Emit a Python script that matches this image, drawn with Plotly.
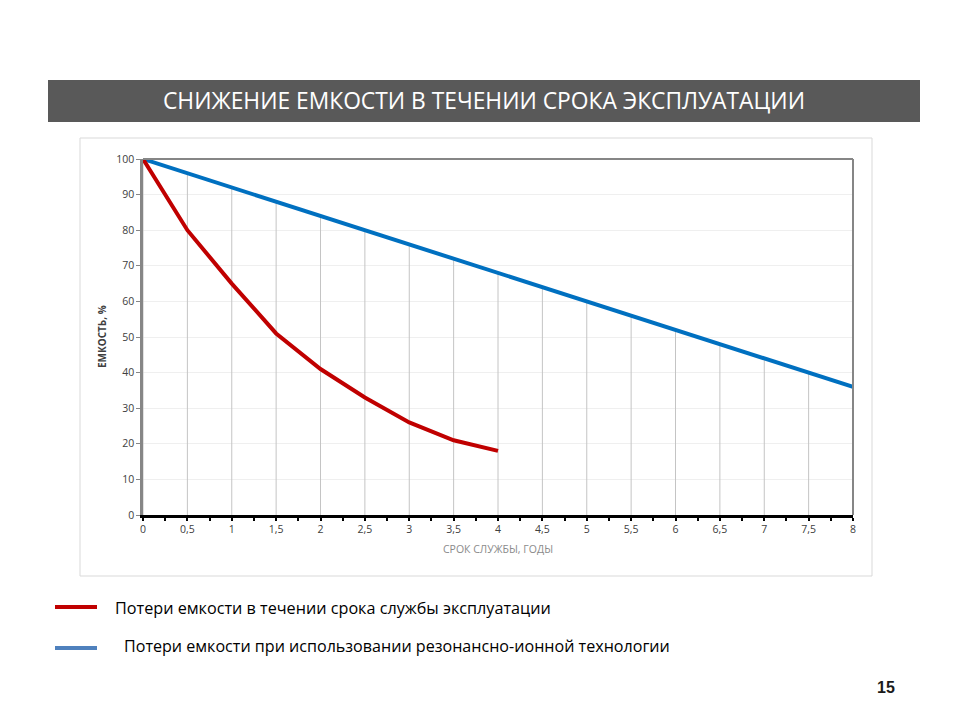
import plotly.graph_objects as go

years = [0, 0.5, 1, 1.5, 2, 2.5, 3, 3.5, 4, 4.5, 5, 5.5, 6, 6.5, 7, 7.5, 8]
red_years = [0, 0.5, 1, 1.5, 2, 2.5, 3, 3.5, 4]
red_vals = [100, 80, 65, 51, 41, 33, 26, 21, 18]
blue_vals = [100, 96, 92, 88, 84, 80, 76, 72, 68, 64, 60, 56, 52, 48, 44, 40, 36]
x_ticks = [0, 0.5, 1, 1.5, 2, 2.5, 3, 3.5, 4, 4.5, 5, 5.5, 6, 6.5, 7, 7.5, 8]
x_labels = ["0", "0,5", "1", "1,5", "2", "2,5", "3", "3,5", "4", "4,5", "5", "5,5", "6", "6,5", "7", "7,5", "8"]

title = "СНИЖЕНИЕ ЕМКОСТИ В ТЕЧЕНИИ СРОКА ЭКСПЛУАТАЦИИ"
legend_red = "Потери емкости в течении срока службы эксплуатации"
legend_blue = "Потери емкости при использовании резонансно-ионной технологии"
x_title = "СРОК СЛУЖБЫ, ГОДЫ"
y_title = "ЕМКОСТЬ, %"

FONT = "Open Sans"

# drop lines from the blue series to the x axis
dx, dy = [], []
for xv, yv in zip(years, blue_vals):
    dx += [xv, xv, None]
    dy += [0, yv, None]

fig = go.Figure()
fig.add_trace(go.Scatter(x=dx, y=dy, mode="lines", line=dict(color="#c4c4c4", width=1),
                         hoverinfo="skip", showlegend=False))
fig.add_trace(go.Scatter(x=years, y=blue_vals, mode="lines", line=dict(color="#0070c0", width=4),
                         showlegend=False))
fig.add_trace(go.Scatter(x=red_years, y=red_vals, mode="lines", line=dict(color="#c00000", width=4),
                         showlegend=False))

W, H = 960, 720
L, R, T, B = 143, 853, 159, 515

shapes = [
    # chart outer frame
    dict(type="rect", xref="paper", yref="paper",
         x0=(80 - L) / (R - L), x1=(872 - L) / (R - L),
         y0=(B - 576) / (B - T), y1=(B - 138) / (B - T),
         line=dict(color="#d9d9d9", width=1), fillcolor="rgba(0,0,0,0)", layer="below"),
    # title bar
    dict(type="rect", xref="paper", yref="paper",
         x0=(48 - L) / (R - L), x1=(920 - L) / (R - L),
         y0=(B - 122) / (B - T), y1=(B - 80) / (B - T),
         line=dict(width=0), fillcolor="#595959"),
    # top and right border of plot area
    dict(type="line", xref="paper", yref="paper", x0=0, x1=1, y0=1, y1=1,
         line=dict(color="#868686", width=2)),
    dict(type="line", xref="paper", yref="paper", x0=1, x1=1, y0=0, y1=1,
         line=dict(color="#868686", width=2)),
    # legend lines
    dict(type="line", xref="paper", yref="paper",
         x0=(55 - L) / (R - L), x1=(97 - L) / (R - L),
         y0=(B - 607) / (B - T), y1=(B - 607) / (B - T),
         line=dict(color="#c00000", width=4)),
    dict(type="line", xref="paper", yref="paper",
         x0=(55 - L) / (R - L), x1=(97 - L) / (R - L),
         y0=(B - 648) / (B - T), y1=(B - 648) / (B - T),
         line=dict(color="#4f81bd", width=4)),
]

def ann(text, x, y, size, color, xanchor="left", bold=False, angle=0, family=FONT):
    return dict(text=("<b>%s</b>" % text) if bold else text, xref="paper", yref="paper",
                x=(x - L) / (R - L), y=(B - y) / (B - T), xanchor=xanchor, yanchor="middle",
                showarrow=False, textangle=angle, font=dict(size=size, color=color, family=family))

annotations = [
    ann(title, 484, 101, 22.8, "#ffffff", xanchor="center"),
    ann(x_title, 498, 549, 10.5, "#8a8a8a", xanchor="center"),
    ann(y_title, 102, 337, 10, "#404040", xanchor="center", bold=True, angle=-90),
    ann(legend_red, 113, 608, 16.2, "#000000"),
    ann(legend_blue, 122, 646, 16.1, "#000000"),
    ann("15", 886, 687, 16, "#1a1a1a", xanchor="center", bold=True, family="Liberation Sans"),
]

fig.update_layout(
    width=W, height=H, autosize=False,
    margin=dict(l=L, r=W - R, t=T, b=H - B, pad=0),
    paper_bgcolor="white", plot_bgcolor="white",
    shapes=shapes, annotations=annotations,
    font=dict(family=FONT, color="#404040", size=10),
)
fig.update_xaxes(range=[0, 8], tickvals=x_ticks, ticktext=x_labels, showgrid=False, zeroline=False,
                 showline=True, linecolor="#000000", linewidth=2.5,
                 ticks="outside", ticklen=3, tickcolor="#000000", tickwidth=2,
                 minor=dict(dtick=0.25, ticks="outside", ticklen=3, tickcolor="#000000", tickwidth=2),
                 tickfont=dict(size=10.5, color="#404040", family=FONT))
fig.update_yaxes(range=[0, 100], dtick=10, showgrid=True, gridcolor="#efefef", gridwidth=1,
                 zeroline=False, showline=True, linecolor="#868686", linewidth=2.5,
                 ticks="outside", ticklen=4, tickcolor="#868686", tickwidth=1,
                 tickfont=dict(size=10.5, color="#404040", family=FONT))

fig.write_html("out.html")
